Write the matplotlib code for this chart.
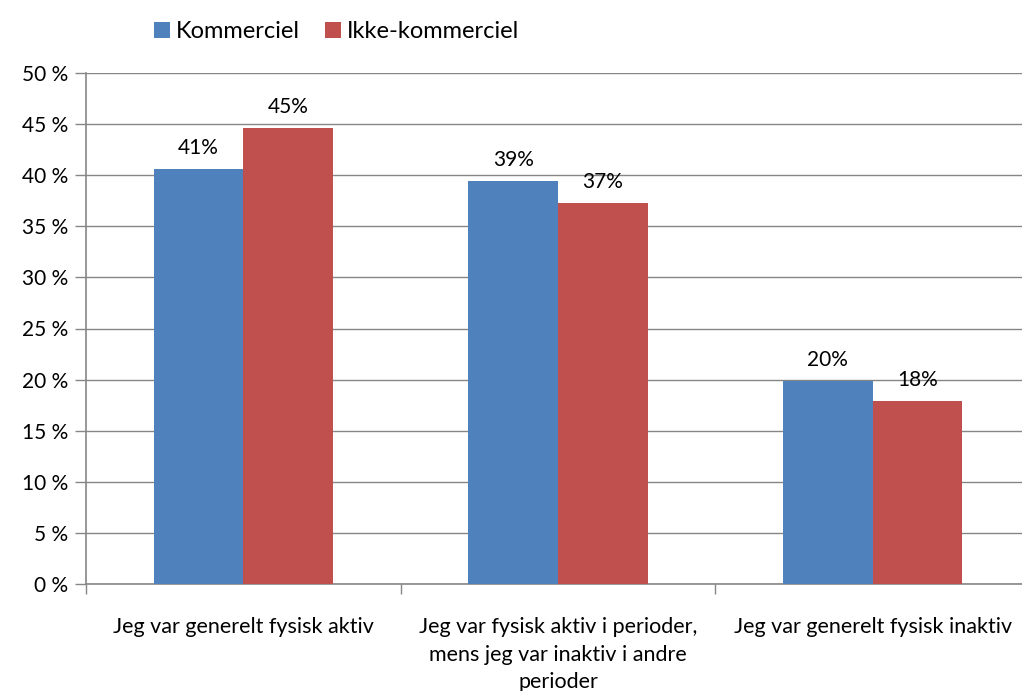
import numpy as np
import matplotlib.pyplot as plt

categories = ['Jeg var generelt fysisk aktiv',
              'Jeg var fysisk aktiv i perioder,\nmens jeg var inaktiv i andre\nperioder',
              'Jeg var generelt fysisk inaktiv']
series = ['Kommerciel', 'Ikke-kommerciel']
kommerciel = [40.6, 39.4, 19.9]
ikke_kommerciel = [44.6, 37.3, 17.9]
labels_k = ['41%', '39%', '20%']
labels_ik = ['45%', '37%', '18%']
yticks = [0, 5, 10, 15, 20, 25, 30, 35, 40, 45, 50]

plt.rcParams['font.family'] = ['Lato', 'DejaVu Sans']

fig = plt.figure(figsize=(10.22, 6.91), dpi=100)
# axes extends a bit past the right edge, like the cropped original
ax = fig.add_axes([86/1022, (691-584)/691, 944/1022, 511/691])

x = np.arange(len(categories))
w = 0.285
colors = ['#4F81BD', '#C0504D']
b1 = ax.bar(x - w/2, kommerciel, w, color=colors[0], label=series[0], zorder=3)
b2 = ax.bar(x + w/2, ikke_kommerciel, w, color=colors[1], label=series[1], zorder=3)
ax.bar_label(b1, labels=labels_k, padding=8, fontsize=15)
ax.bar_label(b2, labels=labels_ik, padding=8, fontsize=15)

ax.set_xlim(-0.5, 2.5)
ax.set_ylim(0, 50)
ax.set_yticks(yticks)
ax.set_yticklabels([f'{v} %' for v in yticks], fontsize=15)
ax.yaxis.grid(True, color='#868686', linewidth=1, zorder=0)
ax.set_axisbelow(True)

ax.set_xticks(x)
ax.set_xticklabels(categories, fontsize=15.5, linespacing=1.45)
ax.set_xticks([-0.5, 0.5, 1.5, 2.5], minor=True)
ax.tick_params(axis='x', which='major', length=0, pad=24)
ax.tick_params(axis='x', which='minor', length=7, color='#868686', width=1)
ax.tick_params(axis='y', length=8, color='#868686', width=1, pad=5)

for s in ['top', 'right']:
    ax.spines[s].set_visible(False)
for s in ['left', 'bottom']:
    ax.spines[s].set_color('#868686')
    ax.spines[s].set_linewidth(1.2)

fig.legend(loc='upper left', bbox_to_anchor=(133/1022, 1.0), ncol=2, frameon=False,
           fontsize=17, handlelength=0.65, handleheight=0.65, handletextpad=0.25,
           columnspacing=1.1)

fig.savefig('out.png', dpi=100)
